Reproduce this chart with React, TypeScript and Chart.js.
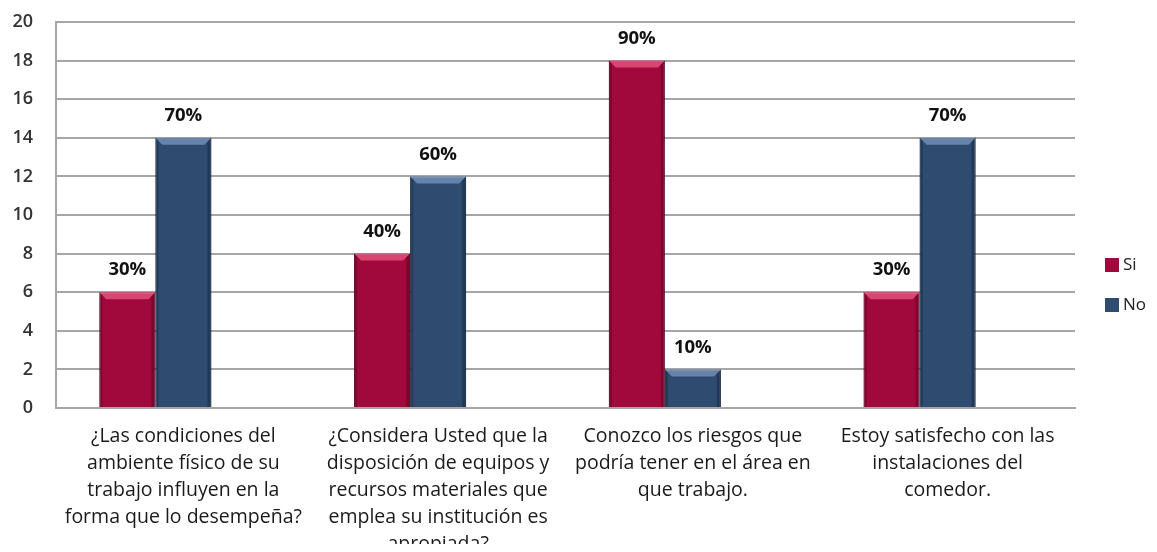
import React, { useEffect, useRef } from "react";
import { Chart, registerables } from "chart.js";

Chart.register(...registerables);

const categories: string[][] = [
  ["¿Las condiciones del", "ambiente físico de su", "trabajo influyen en la", "forma que lo desempeña?"],
  ["¿Considera Usted que la", "disposición de equipos y", "recursos materiales que", "emplea su institución es", "apropiada?"],
  ["Conozco los riesgos que", "podría tener en el área en", "que trabajo."],
  ["Estoy satisfecho con las", "instalaciones del", "comedor."],
];
const siValues = [6, 8, 18, 6];
const noValues = [14, 12, 2, 14];
const emptySeries = [null, null, null, null];
const siLabels = ["30%", "40%", "90%", "30%"];
const noLabels = ["70%", "60%", "10%", "70%"];
const yTicks = [0, 2, 4, 6, 8, 10, 12, 14, 16, 18, 20];

const FONT = "'Open Sans', Lato, sans-serif";
const SI_COLOR = "#a1083b";
const NO_COLOR = "#2f4b70";

const bevelPlugin = {
  id: "bevel",
  afterDatasetsDraw(chart: any) {
    const ctx = chart.ctx;
    [0, 1].forEach((di) => {
      const meta = chart.getDatasetMeta(di);
      const light = di === 0 ? "rgba(255,110,150,0.6)" : "rgba(140,170,210,0.6)";
      const dark = di === 0 ? "rgba(60,0,20,0.35)" : "rgba(10,25,45,0.35)";
      meta.data.forEach((bar: any) => {
        const { x, y, base, width } = bar.getProps(["x", "y", "base", "width"], true);
        const l = x - width / 2;
        const r = x + width / 2;
        const b = 7;
        ctx.save();
        ctx.fillStyle = light;
        ctx.beginPath();
        ctx.moveTo(l, y);
        ctx.lineTo(r, y);
        ctx.lineTo(r - b, y + b);
        ctx.lineTo(l + b, y + b);
        ctx.closePath();
        ctx.fill();
        ctx.fillStyle = dark;
        ctx.beginPath();
        ctx.moveTo(r, y);
        ctx.lineTo(r, base);
        ctx.lineTo(r - 4, base);
        ctx.lineTo(r - 4, y + 4);
        ctx.closePath();
        ctx.fill();
        ctx.beginPath();
        ctx.moveTo(l, y);
        ctx.lineTo(l + 3, y + 3);
        ctx.lineTo(l + 3, base);
        ctx.lineTo(l, base);
        ctx.closePath();
        ctx.fill();
        ctx.restore();
      });
    });
  },
};

const valueLabelPlugin = {
  id: "valueLabels",
  afterDatasetsDraw(chart: any) {
    const ctx = chart.ctx;
    const texts = [siLabels, noLabels];
    ctx.save();
    ctx.font = `bold 18.5px ${FONT}`;
    ctx.fillStyle = "#111";
    ctx.textAlign = "center";
    ctx.textBaseline = "middle";
    [0, 1].forEach((di) => {
      const meta = chart.getDatasetMeta(di);
      meta.data.forEach((bar: any, i: number) => {
        const { x, y } = bar.getProps(["x", "y"], true);
        ctx.fillText(texts[di][i], x, y - 22);
      });
    });
    ctx.restore();
  },
};

const legendPlugin = {
  id: "customLegend",
  afterDraw(chart: any) {
    const ctx = chart.ctx;
    const items = [
      { label: chart.data.datasets[0].label, color: SI_COLOR },
      { label: chart.data.datasets[1].label, color: NO_COLOR },
    ];
    ctx.save();
    ctx.font = `17px ${FONT}`;
    ctx.textBaseline = "middle";
    ctx.textAlign = "left";
    items.forEach((it, i) => {
      const cy = 257 + i * 40;
      ctx.fillStyle = it.color;
      ctx.fillRect(1097, cy - 7, 14, 14);
      ctx.fillStyle = "#222";
      ctx.fillText(it.label, 1115, cy);
    });
    ctx.restore();
  },
};

export default function App() {
  const ref = useRef<HTMLCanvasElement>(null);
  useEffect(() => {
    if (!ref.current) return;
    const chart = new Chart(ref.current, {
      type: "bar",
      data: {
        labels: categories,
        datasets: [
          { label: "Si", data: siValues, backgroundColor: SI_COLOR, borderColor: "#6e0428", borderWidth: 1 },
          { label: "No", data: noValues, backgroundColor: NO_COLOR, borderColor: "#1c2f48", borderWidth: 1 },
          { label: "", data: emptySeries as any, backgroundColor: "transparent" },
        ],
      },
      options: {
        animation: false,
        responsive: false,
        maintainAspectRatio: false,
        layout: { padding: { top: 14, right: 82, left: 0, bottom: 0 } },
        plugins: { legend: { display: false }, tooltip: { enabled: false } },
        datasets: { bar: { categoryPercentage: 0.66, barPercentage: 1.0 } },
        scales: {
          x: {
            grid: { display: false, drawTicks: false },
            border: { display: true, color: "#a6a6a6", width: 2 },
            ticks: {
              autoSkip: false,
              maxRotation: 0,
              minRotation: 0,
              padding: 15,
              color: "#1a1a1a",
              font: { family: FONT, size: 19.5, lineHeight: 27 / 19.5 },
            },
            afterFit(scale: any) {
              scale.height = 136;
              scale.paddingLeft = 0;
              scale.paddingRight = 0;
            },
          },
          y: {
            min: 0,
            max: 20,
            afterBuildTicks(scale: any) {
              scale.ticks = yTicks.map((v) => ({ value: v }));
            },
            grid: { color: "#a6a6a6", lineWidth: 2, drawTicks: false },
            border: { display: true, color: "#a6a6a6", width: 2 },
            ticks: {
              padding: 23,
              color: "#333",
              font: { family: FONT, size: 18, weight: 600 },
            },
            afterFit(scale: any) {
              scale.width = 48;
              scale.paddingTop = 0;
              scale.paddingBottom = 0;
            },
          },
        },
      },
      plugins: [bevelPlugin, valueLabelPlugin, legendPlugin],
    });
    return () => chart.destroy();
  }, []);
  return (
    <div style={{ width: 1149, height: 536, position: "relative" }}>
      <canvas ref={ref} width={1149} height={536} style={{ display: "block", width: 1149, height: 536 }} />
    </div>
  );
}
